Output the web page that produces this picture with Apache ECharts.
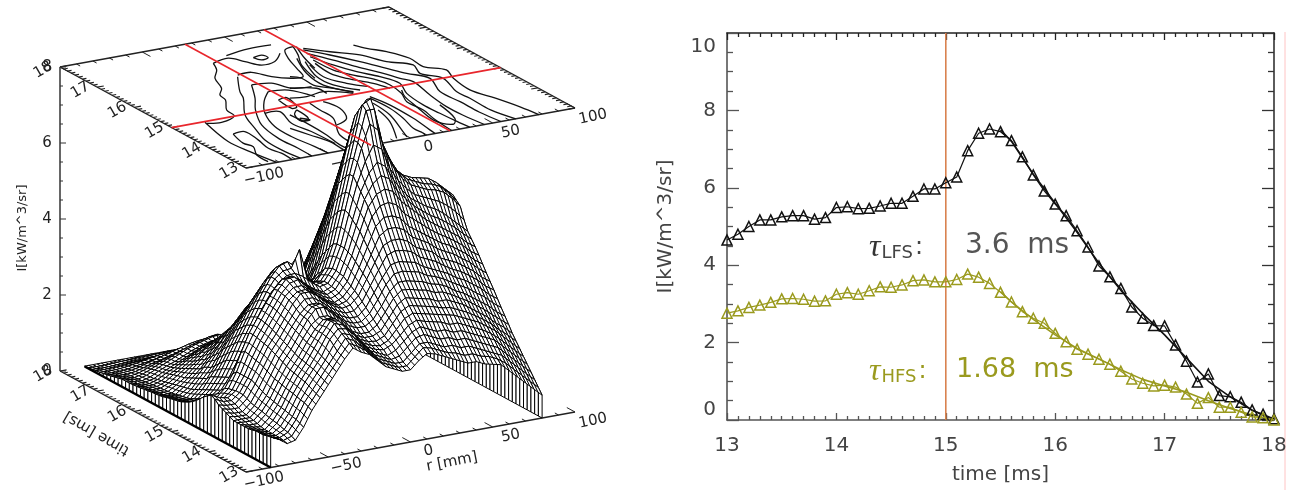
<!DOCTYPE html>
<html><head><meta charset="utf-8">
<style>html,body{margin:0;padding:0;background:#fff}#c{width:1298px;height:490px}</style>
<script src="https://cdn.jsdelivr.net/npm/echarts@6/dist/echarts.min.js"></script></head>
<body><div id="c"></div>
<script>
const timeMs=[13,13.1,13.2,13.3,13.4,13.5,13.6,13.7,13.8,13.9,14,14.1,14.2,14.3,14.4,14.5,14.6,14.7,14.8,14.9,15,15.1,15.2,15.3,15.4,15.5,15.6,15.7,15.8,15.9,16,16.1,16.2,16.3,16.4,16.5,16.6,16.7,16.8,16.9,17,17.1,17.2,17.3,17.4,17.5,17.6,17.7,17.8,17.9,18];
const lfs=[4.65,4.8,5.0,5.17,5.17,5.25,5.28,5.28,5.19,5.23,5.49,5.51,5.46,5.47,5.53,5.6,5.6,5.78,5.97,5.97,6.13,6.28,6.96,7.41,7.52,7.45,7.22,6.8,6.33,5.92,5.58,5.28,4.89,4.47,3.98,3.7,3.4,2.92,2.63,2.44,2.43,1.94,1.52,0.98,1.19,0.63,0.6,0.46,0.26,0.15,0.03];
const hfs=[2.76,2.82,2.91,2.97,3.04,3.13,3.14,3.12,3.07,3.08,3.25,3.29,3.25,3.34,3.44,3.43,3.49,3.6,3.62,3.57,3.57,3.63,3.77,3.69,3.53,3.3,3.05,2.8,2.63,2.5,2.24,2.02,1.83,1.7,1.57,1.44,1.26,1.06,0.95,0.88,0.9,0.85,0.67,0.43,0.58,0.33,0.33,0.2,0.08,0.06,0];
const fitTime=[15.5,15.6,15.8,16,16.2,16.4,16.6,16.8,17,17.2,17.4,17.6,17.8,18];
const lfsFit=[7.5,7.2,6.35,5.6,4.85,4.05,3.35,2.75,2.2,1.6,1.0,0.6,0.25,0];
const hfsFit=[3.32,3.05,2.6,2.2,1.85,1.58,1.3,1.05,0.88,0.72,0.5,0.3,0.13,0];
const markerTime=[15];
const surfaceR=[-85,-80,-75,-70,-65,-60,-55,-50,-45,-40,-35,-30,-25,-20,-15,-10,-5,0,5,10,15,20,25,30,35,40,45,50,55,60,65,70,75,80];
const surfaceZ=[
[.8,.7,.55,.6,.9,1.3,1.6,1.9,2.2,2.5,2.75,2.6,2.5,2.3,2.1,2,1.9,1.9,2.1,2.25,2.2,2.1,2,1.9,1.8,1.8,1.7,1.65,1.6,1.4,1.2,1,.8,.6],
[.78,.68,.58,.65,.95,1.35,1.65,1.95,2.25,2.55,2.82,2.7,2.55,2.35,2.15,2.05,1.95,1.95,2.15,2.35,2.3,2.2,2.1,2.05,1.95,1.95,1.85,1.8,1.7,1.55,1.35,1.15,.95,.75],
[.75,.65,.6,.7,1,1.4,1.7,2,2.3,2.6,2.9,2.8,2.6,2.4,2.2,2.1,2,2,2.2,2.4,2.4,2.3,2.2,2.2,2.1,2.1,2,1.9,1.8,1.7,1.5,1.3,1.1,.9],
[.75,.65,.6,.72,1.02,1.42,1.75,2.05,2.35,2.7,2.97,2.9,2.7,2.45,2.25,2.15,2.05,2.1,2.3,2.5,2.55,2.45,2.35,2.35,2.25,2.25,2.15,2.05,1.95,1.85,1.65,1.45,1.25,1.05],
[.75,.65,.6,.75,1.05,1.45,1.8,2.1,2.4,2.8,3.04,3,2.8,2.5,2.3,2.2,2.1,2.2,2.4,2.6,2.7,2.6,2.5,2.5,2.4,2.4,2.3,2.2,2.1,2,1.8,1.6,1.4,1.2],
[.72,.65,.6,.78,1.08,1.48,1.82,2.12,2.45,2.82,3.13,3.05,2.85,2.55,2.35,2.25,2.2,2.3,2.5,2.72,2.82,2.75,2.7,2.65,2.55,2.55,2.45,2.35,2.25,2.12,1.95,1.75,1.55,1.35],
[.7,.65,.6,.8,1.1,1.5,1.85,2.15,2.5,2.85,3.14,3.1,2.9,2.6,2.4,2.3,2.25,2.35,2.6,2.85,2.95,2.9,2.85,2.8,2.75,2.7,2.6,2.5,2.4,2.25,2.1,1.9,1.7,1.5],
[.7,.65,.62,.82,1.12,1.52,1.88,2.18,2.52,2.85,3.12,3.1,2.9,2.65,2.45,2.35,2.32,2.42,2.7,2.98,3.1,3.05,3,2.95,2.88,2.85,2.75,2.65,2.52,2.38,2.22,2.02,1.85,1.65],
[.7,.65,.65,.85,1.15,1.55,1.9,2.2,2.55,2.85,3.07,3.07,2.9,2.7,2.5,2.4,2.4,2.5,2.8,3.1,3.25,3.2,3.15,3.1,3,3,2.9,2.8,2.65,2.5,2.35,2.15,2,1.8],
[.7,.68,.68,.88,1.18,1.58,1.95,2.25,2.6,2.92,3.08,3.08,2.95,2.75,2.55,2.45,2.45,2.6,2.9,3.22,3.4,3.38,3.32,3.28,3.18,3.15,3.05,2.92,2.8,2.65,2.5,2.32,2.15,1.98],
[.7,.7,.7,.9,1.2,1.6,2,2.3,2.65,3,3.25,3.25,3.05,2.85,2.65,2.55,2.55,2.7,3,3.35,3.55,3.55,3.5,3.45,3.35,3.3,3.2,3.05,2.95,2.8,2.65,2.5,2.3,2.15],
[.75,.72,.72,.92,1.25,1.65,2.05,2.35,2.7,3.02,3.25,3.29,3.12,2.9,2.72,2.62,2.62,2.8,3.12,3.48,3.72,3.75,3.7,3.65,3.52,3.45,3.35,3.22,3.1,2.98,2.82,2.68,2.48,2.32],
[.8,.75,.75,.95,1.3,1.7,2.1,2.4,2.75,3.05,3.25,3.25,3.1,2.95,2.8,2.7,2.7,2.9,3.25,3.6,3.9,3.95,3.9,3.85,3.7,3.6,3.5,3.4,3.25,3.15,3,2.85,2.65,2.5],
[.85,.8,.8,1,1.35,1.75,2.15,2.45,2.8,3.12,3.34,3.34,3.2,3.02,2.88,2.78,2.8,3,3.38,3.75,4.1,4.18,4.15,4.08,3.9,3.8,3.7,3.55,3.42,3.32,3.18,3.02,2.82,2.68],
[.9,.85,.85,1.05,1.4,1.8,2.2,2.5,2.85,3.2,3.44,3.44,3.3,3.1,2.95,2.85,2.9,3.1,3.5,3.9,4.3,4.4,4.4,4.3,4.1,4,3.9,3.7,3.6,3.5,3.35,3.2,3,2.85],
[1,.9,.88,1.05,1.4,1.82,2.22,2.55,2.9,3.25,3.43,3.45,3.32,3.12,2.98,2.88,2.95,3.18,3.6,4.05,4.5,4.65,4.65,4.55,4.32,4.2,4.08,3.9,3.78,3.68,3.52,3.38,3.18,3.02],
[1.05,.95,.9,1.05,1.4,1.85,2.25,2.6,2.95,3.3,3.49,3.5,3.35,3.15,3,2.9,3,3.25,3.7,4.2,4.7,4.9,4.9,4.8,4.55,4.4,4.25,4.1,3.95,3.85,3.7,3.55,3.35,3.2],
[.98,.88,.85,1.02,1.4,1.88,2.28,2.62,2.98,3.32,3.55,3.6,3.4,3.2,3.05,2.95,3.05,3.32,3.8,4.35,4.9,5.15,5.2,5.1,4.82,4.65,4.48,4.3,4.15,4.02,3.88,3.72,3.52,3.38],
[.9,.8,.8,1,1.4,1.9,2.3,2.65,3,3.35,3.6,3.62,3.45,3.25,3.1,3,3.1,3.4,3.9,4.5,5.1,5.4,5.5,5.4,5.1,4.9,4.7,4.5,4.35,4.2,4.05,3.9,3.7,3.55],
[.8,.72,.75,.95,1.3,1.82,2.3,2.65,3,3.32,3.55,3.57,3.48,3.28,3.12,3.02,3.12,3.42,3.95,4.6,5.25,5.62,5.8,5.68,5.32,5.08,4.85,4.68,4.52,4.4,4.25,4.08,3.88,3.7],
[.7,.65,.7,.85,1.15,1.55,2,2.4,2.8,3.15,3.4,3.55,3.57,3.45,3.25,3.1,3.15,3.45,4,4.7,5.4,5.85,6.1,5.95,5.55,5.25,5,4.85,4.7,4.6,4.45,4.25,4.05,3.85],
[.62,.58,.62,.8,1.1,1.5,1.95,2.35,2.75,3.15,3.45,3.62,3.65,4.1,3.3,3.1,3.15,3.45,4,4.8,5.55,6.1,6.5,6.35,5.8,5.45,5.2,5,4.9,4.8,4.7,4.55,4.35,4.1],
[.55,.5,.55,.75,1.05,1.45,1.9,2.3,2.7,3.1,3.45,3.7,3.77,3.6,3.35,3.1,3.1,3.4,4,4.85,5.7,6.4,7,6.8,6.1,5.7,5.4,5.2,5.1,5,4.95,4.85,4.65,4.4],
[.5,.45,.5,.7,1,1.4,1.8,2.2,2.6,3,3.35,3.6,3.69,3.55,3.3,3.05,3.05,3.35,3.95,4.8,5.7,6.5,7.3,7.3,6.35,5.85,5.5,5.3,5.2,5.1,5.05,4.95,4.75,4.5],
[.45,.4,.45,.65,.95,1.3,1.7,2.1,2.5,2.85,3.2,3.45,3.53,3.4,3.15,2.95,2.95,3.2,3.8,4.7,5.6,6.5,7.4,7.52,6.5,6,5.55,5.35,5.25,5.2,5.15,5,4.8,4.6],
[.42,.38,.4,.6,.9,1.2,1.6,2,2.35,2.7,3,3.25,3.3,3.2,3,2.8,2.85,3.1,3.65,4.55,5.45,6.35,7.2,7.45,6.55,5.95,5.5,5.25,5.15,5.05,5,4.85,4.65,4.45],
[.4,.35,.35,.55,.8,1.1,1.5,1.85,2.2,2.5,2.8,3,3.05,2.95,2.8,2.65,2.7,2.95,3.5,4.4,5.3,6.2,7,7.22,6.5,5.9,5.4,5.15,5,4.9,4.85,4.7,4.5,4.3],
[.38,.32,.32,.5,.75,1,1.35,1.7,2.05,2.3,2.6,2.75,2.8,2.7,2.6,2.45,2.5,2.8,3.3,4.15,5,5.85,6.6,6.8,6.15,5.6,5.15,4.9,4.75,4.65,4.6,4.45,4.25,4.05],
[.35,.3,.3,.45,.7,.95,1.25,1.55,1.9,2.15,2.4,2.6,2.63,2.5,2.4,2.3,2.35,2.6,3.1,3.9,4.7,5.5,6.2,6.33,5.8,5.3,4.9,4.65,4.5,4.4,4.3,4.15,3.95,3.8],
[.32,.28,.28,.42,.65,.9,1.15,1.45,1.75,2,2.25,2.45,2.5,2.4,2.25,2.15,2.2,2.45,2.9,3.65,4.4,5.15,5.8,5.92,5.45,5,4.6,4.35,4.2,4.1,4,3.85,3.7,3.5],
[.3,.25,.25,.4,.6,.8,1.05,1.3,1.55,1.8,2,2.2,2.24,2.15,2.05,1.95,2,2.25,2.7,3.4,4.1,4.8,5.4,5.58,5.1,4.65,4.3,4.05,3.9,3.8,3.7,3.55,3.4,3.25],
[.29,.23,.23,.37,.55,.75,.95,1.2,1.45,1.65,1.85,2,2.02,1.95,1.85,1.8,1.85,2.1,2.5,3.15,3.8,4.45,5,5.28,4.8,4.35,4,3.8,3.65,3.5,3.4,3.3,3.15,3],
[.28,.22,.22,.35,.5,.7,.9,1.1,1.3,1.5,1.65,1.8,1.83,1.75,1.7,1.65,1.7,1.95,2.35,2.95,3.55,4.1,4.6,4.89,4.45,4.05,3.7,3.5,3.35,3.25,3.15,3,2.85,2.75],
[.26,.21,.21,.32,.48,.65,.82,1,1.2,1.35,1.5,1.65,1.7,1.62,1.55,1.5,1.55,1.8,2.15,2.7,3.25,3.8,4.25,4.47,4.1,3.75,3.4,3.25,3.1,2.95,2.85,2.75,2.6,2.5],
[.25,.2,.2,.3,.45,.6,.75,.95,1.1,1.25,1.4,1.53,1.57,1.5,1.42,1.37,1.45,1.65,2,2.5,3,3.5,3.9,3.98,3.8,3.45,3.15,3,2.85,2.7,2.6,2.5,2.35,2.25],
[.23,.19,.19,.27,.42,.55,.7,.85,1,1.12,1.25,1.38,1.44,1.38,1.3,1.25,1.32,1.52,1.85,2.3,2.75,3.2,3.55,3.7,3.45,3.15,2.9,2.75,2.6,2.45,2.35,2.25,2.15,2.05],
[.22,.18,.18,.25,.38,.5,.65,.78,.92,1.02,1.12,1.22,1.26,1.22,1.17,1.12,1.2,1.4,1.7,2.1,2.5,2.9,3.25,3.4,3.15,2.9,2.65,2.5,2.35,2.25,2.15,2.05,1.95,1.85],
[.21,.16,.16,.23,.35,.46,.58,.7,.82,.92,1,1.05,1.06,1.03,1,.98,1.05,1.25,1.5,1.85,2.2,2.55,2.8,2.92,2.8,2.6,2.35,2.25,2.15,2.05,1.95,1.85,1.75,1.65],
[.2,.15,.15,.2,.32,.42,.52,.62,.72,.82,.88,.93,.95,.92,.9,.9,.95,1.1,1.35,1.7,2.05,2.35,2.6,2.63,2.55,2.35,2.15,2.05,1.95,1.85,1.75,1.65,1.55,1.5],
[.2,.15,.13,.19,.3,.4,.48,.58,.68,.76,.82,.86,.88,.86,.85,.85,.9,1.05,1.28,1.6,1.9,2.2,2.4,2.44,2.4,2.2,2,1.9,1.8,1.7,1.6,1.5,1.42,1.35],
[.2,.15,.12,.18,.28,.38,.48,.58,.68,.76,.82,.88,.9,.86,.82,.8,.85,1,1.2,1.5,1.8,2.05,2.3,2.43,2.3,2.1,1.9,1.75,1.65,1.55,1.45,1.4,1.3,1.25],
[.17,.13,.11,.16,.25,.35,.44,.53,.62,.7,.76,.82,.85,.8,.76,.72,.77,.9,1.05,1.3,1.55,1.75,1.9,1.94,1.85,1.7,1.55,1.45,1.35,1.3,1.25,1.15,1.1,1.05],
[.15,.12,.1,.14,.22,.3,.38,.45,.52,.58,.62,.65,.67,.64,.6,.58,.63,.75,.9,1.1,1.3,1.4,1.5,1.52,1.45,1.35,1.25,1.15,1.1,1.05,1,.95,.9,.85],
[.12,.1,.09,.12,.18,.25,.3,.36,.4,.44,.46,.45,.43,.43,.44,.46,.5,.6,.72,.87,1,1.02,1,.98,.98,.96,.92,.88,.85,.8,.76,.72,.68,.65],
[.1,.08,.08,.1,.15,.22,.28,.34,.4,.46,.52,.56,.58,.54,.5,.48,.52,.6,.7,.85,1,1.1,1.18,1.19,1.15,1.05,.95,.9,.85,.8,.75,.7,.65,.6],
[.08,.06,.06,.08,.12,.16,.2,.24,.26,.29,.31,.33,.33,.32,.3,.3,.33,.38,.44,.5,.56,.6,.63,.63,.6,.56,.52,.48,.45,.42,.4,.37,.35,.32],
[.06,.05,.05,.07,.1,.14,.18,.22,.25,.28,.31,.33,.33,.31,.29,.28,.3,.35,.42,.48,.54,.58,.6,.6,.55,.52,.5,.45,.42,.4,.38,.35,.32,.3],
[.05,.04,.04,.05,.07,.09,.11,.13,.15,.17,.18,.2,.2,.19,.19,.2,.22,.26,.32,.38,.42,.45,.46,.46,.42,.38,.35,.32,.3,.28,.26,.24,.22,.2],
[.03,.02,.02,.03,.04,.05,.06,.07,.07,.08,.08,.08,.08,.08,.08,.1,.12,.15,.18,.22,.26,.26,.26,.26,.25,.22,.2,.18,.17,.16,.15,.14,.13,.12],
[.02,.01,.01,.02,.03,.03,.04,.05,.05,.06,.06,.06,.06,.06,.06,.06,.07,.09,.1,.12,.14,.15,.15,.15,.14,.12,.11,.1,.09,.09,.08,.08,.07,.07],
[.01,.01,.01,.01,.01,.01,.01,.01,.01,.01,.01,.01,.01,.01,.01,.01,.01,.01,.01,.01,.01,.01,.01,.01,.01,.01,.01,.01,.01,.01,.01,.01,.01,.01]];
const contours=[
[[-27.2,17.1],[-31.2,16.83],[-39,16.53],[-44.3,16.12],[-50.7,15.88],[-52.3,15.66],[-60.2,15.28],[-61.7,15.01],[-72.8,14.86],[-80.5,14.92]],
[[-80.4,14.97],[-86,14.1],[-84.5,13.58],[-81.3,13]],
[[-27.3,16.44],[-38.8,15.87],[-42.8,15.6],[-56,14.97],[-62.7,14.41],[-67.9,13.91],[-68.7,13.43],[-67,13]],
[[-27.9,16.04],[-37.5,15.52],[-47,15.09],[-56.8,14.49],[-60.4,13.88],[-59.7,13.38],[-60,13]],
[[-25.9,15.68],[-36.1,15.34],[-45.5,14.9],[-52.2,14.34],[-53,13.86],[-50.7,13.33],[-50,13]],
[[-77.5,14.34],[-80.5,13.94],[-78.8,13.74],[-84.2,13.41],[-84.5,13.09]],
[[-77.5,14.34],[-70,14.36],[-70.9,13.96],[-73.3,13.58],[-71.5,13.31],[-72,13]],
[[-14.7,17.3],[0.8,17.4],[14.5,17.39]],
[[-4.2,17.04],[1.8,17.08],[2.6,16.94],[-2.4,16.9],[-4.2,17.04]],
[[-27.2,17.1],[-16.1,17.19],[-11.3,16.95],[-6.6,16.71],[2.3,16.75],[11.6,17.02]],
[[-25.9,16.5],[-17.3,16.51],[-11.8,16.21],[-4.1,16.02],[2.6,16],[6.6,16.35],[11.2,16.78],[16.6,17.11],[23.2,17.18]],
[[-27.9,16.04],[-17.4,15.97],[-12.5,15.65],[-2,15.57]],
[[-25.9,15.68],[-15.4,15.6],[-8.8,15.18]],
[[-28.3,15.3],[-22.6,15.33],[-25.5,14.93],[-29.2,14.9],[-28.3,15.3]],
[[-33.8,14.48],[-30.6,14.35],[-35.3,14.37],[-33.8,14.48]],
[[23.2,17.18],[18.5,16.84],[11.6,16.44],[6.6,15.86]],
[[24.7,17.16],[18.7,16.67],[14.9,16.23]],
[[-45.5,14.9],[-37.3,14.86],[-41.8,14.35],[-39.7,13.91],[-39,13.3]],
[[51.9,16.83],[55.2,16.62],[61.5,16.36],[66.5,15.96],[65.6,15.56],[73.4,15.28],[69.5,14.92],[67.3,14.38],[72,13.9],[76,13.4],[78,13]],
[[26.4,17.05],[35.7,16.74],[46.6,16.42],[53.1,15.99],[62.5,15.69],[58.5,15.33],[64.9,14.99],[59.8,14.41],[60.3,14.07],[60,13.5],[64,13]],
[[25,16.99],[32.9,16.62],[41,16.17],[47.5,15.74],[52.4,15.42],[58.9,15.08],[52.3,14.52],[53,14.01],[53,13.5],[55,13]],
[[23.7,16.84],[30.2,16.41],[35.3,16.01],[41.8,15.58],[45.2,15.28],[48.5,15.07],[44.9,14.46],[42.7,13.92],[43,13.5],[45,13]],
[[22.4,16.69],[26,16.23],[31.1,15.82],[37.5,15.48],[41,15.1],[35.7,14.68],[33.5,14.14],[34.1,13.72],[35,13.3],[36,13]],
[[21.1,16.55],[21.9,16.04],[26.8,15.72],[33.2,15.38],[35.1,15.1],[33.4,14.72],[28.7,14.37],[29.3,13.95],[26.9,13.57],[25,13]],
[[19.1,16.41],[17.6,15.94],[21,15.64],[28.9,15.28],[32.3,14.98]],
[[15.4,16.39],[11.7,15.86],[16.8,15.46],[24.6,15.18]],
[[16,16.54],[8.7,15.91],[9.3,15.49],[17.3,15.12]],
[[15,16.72],[6.9,16.1],[4.7,15.55],[12.8,15.1]],
[[16.2,14.81],[18.3,14.37],[17.8,13.71],[15.6,13.17],[15,13]],
[[14.8,14.75],[15.5,14.24],[13.2,13.78],[9.4,13.34],[9.8,13.09],[9,13]],
[[12.1,14.54],[10,14],[2,13.29],[-0.6,13.07]],
[[8.8,14.26],[4.4,13.75],[-6.6,13.08]],
[[36.2,14.84],[32.1,14.57],[29.1,14.12],[25.5,13.51],[31,13.22],[36.7,13.43],[41.1,14.03]],
[[-3.4,16.09],[0.5,15.95],[0.2,15.62],[6.5,15.36],[12.3,15.08]],
[[-21.6,15.29],[-12.6,15.23],[-0.8,15.31],[11.4,15.04]],
[[-13.2,15.66],[-1.1,15.48],[-0.7,15.22]],
[[-9.2,14.94],[-7.2,14.58],[-12.6,14.16],[-22.7,13.98]],
[[-16.7,14.97],[-17.7,14.65],[-18.6,14.25],[-29.6,13.59],[-30,13]],
[[-28.3,14.81],[-30,14.42],[-35.3,14.36],[-33.3,14.64],[-28.3,14.81]],
[[-46.7,14.17],[-43.2,13.79],[-39.7,13.41],[-40.6,13.01]],
[[-35.6,14.67],[-34.8,14.17],[-35.6,13.68],[-37.9,13.21],[-37,13]]
];
const redR=[-24,24], redT=[15];
const rMajor=[-100,-50,0,50,100], tMajor=[13,14,15,16,17,18], zMajor=[0,2,4,6,8];

const OLIVE='#9a9a1e', GREY='#444';
function P(r,t,z){return [246+1.645*(r+100)-37.2*(t-13), 472-0.30*(r+100)-20.2*(t-13)-38*z];}
function mkItem(api){
 const c=p=>api.coord(p);
 return {
  line:(a,b,col,w)=>{const A=c(a),B=c(b);return {type:'line',shape:{x1:A[0],y1:A[1],x2:B[0],y2:B[1]},style:{stroke:col||'#111',lineWidth:w||1}};},
  poly:(ps,w)=>({type:'polygon',shape:{points:ps.map(c)},style:{fill:'#fff',stroke:'#000',lineWidth:w||1}}),
  text:(p,dx,dy,s,rotDeg,size)=>{const A=c(p);return {type:'text',x:A[0]+dx,y:A[1]+dy,rotation:(rotDeg||0)*Math.PI/180,style:{text:s,x:0,y:0,align:'center',verticalAlign:'middle',fill:'#222',font:(size||15)+'px "DejaVu Sans"'}};}
 };
}
function tickRange(a,b,st){const o=[];const n=Math.round((b-a)/st);for(let i=0;i<=n;i++)o.push(a+st*i);return o;}
function renderBox(p,api){
 const m=mkItem(api),ch=[];
 [8,0].forEach(z=>{
  ch.push(m.line(P(-100,13,z),P(100,13,z),'#222',1.4));
  ch.push(m.line(P(-100,13,z),P(-100,18,z),'#222',1.4));
  if(z===8){ch.push(m.line(P(-100,18,z),P(100,18,z),'#222',1.4));ch.push(m.line(P(100,13,z),P(100,18,z),'#222',1.4));}
  tickRange(13,18,0.1).forEach(t=>{const maj=Math.abs(t-Math.round(t))<1e-6;
   ch.push(m.line(P(-100,t,z),P(maj?-96:-97.5,t,z),'#222',1.2));
   if(z===8)ch.push(m.line(P(100,t,z),P(maj?96:97.5,t,z),'#222',1.2));});
  tickRange(-100,100,10).forEach(r=>{const maj=r%50===0;
   ch.push(m.line(P(r,13,z),P(r,maj?13.22:13.1,z),'#222',1));
   if(z===8)ch.push(m.line(P(r,18,z),P(r,maj?17.78:17.9,z),'#222',1));});
  rMajor.forEach(r=>{ch.push(m.text(P(r,13,z),18,9,(r<0?'\u2212':'')+Math.abs(r),12));});
  tMajor.forEach(t=>{ch.push(m.text(P(-100,t,z),-17,3,String(t),30));});
 });
 ch.push(m.line(P(-100,18,0),P(-100,18,8),'#333',1.5));
 tickRange(0,8,0.5).forEach(z=>{ch.push(m.line(P(-100,18,z),[P(-100,18,z)[0]+(z%2===0?6:3),P(-100,18,z)[1]],'#333',1));});
 zMajor.forEach(z=>{ch.push(m.text(P(-100,18,z),-13,0,String(z),0));});
 ch.push(m.text(P(-100,18,4),-37,9,'I[kW/m^3/sr]',90,13));
 ch.push(m.text(P(10,13,0),25,23,'r [mm]',11,15));
 ch.push(m.text(P(-100,15.7,0),-49,16,'time [ms]',150,15));
 return {type:'group',children:ch};
}
function renderContours(p,api){
 const ch=contours.map(l=>({type:'polyline',shape:{points:l.map(q=>api.coord(P(q[0],q[1],8))),smooth:0.35},style:{fill:null,stroke:'#111',lineWidth:1.3}}));
 return {type:'group',children:ch};
}
const surfaceT=timeMs;
function renderSurface(p,api){
 const m=mkItem(api),ch=[];const nT=surfaceT.length,nR=surfaceR.length;
 const last=nR-1;
 for(let i=nT-1;i>0;i--){
  ch.push(m.poly([P(surfaceR[last],surfaceT[i],0),P(surfaceR[last],surfaceT[i-1],0),P(surfaceR[last],surfaceT[i-1],surfaceZ[i-1][last]),P(surfaceR[last],surfaceT[i],surfaceZ[i][last])]));
 }
 for(let i=nT-1;i>0;i--)for(let j=nR-1;j>0;j--){
  const a=P(surfaceR[j],surfaceT[i],surfaceZ[i][j]),b=P(surfaceR[j-1],surfaceT[i],surfaceZ[i][j-1]),c=P(surfaceR[j-1],surfaceT[i-1],surfaceZ[i-1][j-1]),d=P(surfaceR[j],surfaceT[i-1],surfaceZ[i-1][j]);
  ch.push(m.poly([a,b,c,d]));
  ch.push(m.line([(a[0]+b[0])/2,(a[1]+b[1])/2],[(c[0]+d[0])/2,(c[1]+d[1])/2],'#000',1));
 }
 for(let i=nT-1;i>0;i--){
  ch.push(m.poly([P(surfaceR[0],surfaceT[i],0),P(surfaceR[0],surfaceT[i-1],0),P(surfaceR[0],surfaceT[i-1],surfaceZ[i-1][0]),P(surfaceR[0],surfaceT[i],surfaceZ[i][0])]));
 }
 ch.push(m.line(P(surfaceR[0],18,0),P(surfaceR[0],13,0),'#000',2.5));
 return {type:'group',children:ch};
}
function renderRed(p,api){
 const m=mkItem(api),ch=[];
 redR.forEach(r=>ch.push(m.line(P(r,13,8),P(r,18,8),'#e8262c',1.6)));
 redT.forEach(t=>ch.push(m.line(P(-100,t,8),P(100,t,8),'#e8262c',1.6)));
 return {type:'group',children:ch};
}
function cust(fn){return {type:'custom',coordinateSystem:'cartesian2d',xAxisIndex:0,yAxisIndex:0,data:[[0,0]],renderItem:fn,clip:false,silent:true,animation:false,progressive:0};}
const pairs=(xs,ys)=>xs.map((x,i)=>[x,ys[i]]);
const tri=(name,ys,col)=>({name,type:'line',xAxisIndex:1,yAxisIndex:1,data:pairs(timeMs,ys),symbol:'triangle',symbolSize:10,showSymbol:true,showAllSymbol:true,lineStyle:{color:col,width:1.2},itemStyle:{color:'rgba(255,255,255,0)',borderColor:col,borderWidth:1.5},clip:false,silent:true,animation:false});
const fit=(name,ys,col)=>({name,type:'line',xAxisIndex:1,yAxisIndex:1,data:pairs(fitTime,ys),symbol:'none',smooth:false,lineStyle:{color:col,width:1.6},silent:true,animation:false});
const axBase=(col)=>({axisLine:{show:true,onZero:false,lineStyle:{color:col,width:1.6}},splitLine:{show:false},minorSplitLine:{show:false}});
const ticks=(col,tl,ml,n)=>({axisTick:{show:true,inside:true,length:tl,lineStyle:{color:col,width:1.3}},minorTick:{show:true,splitNumber:n,length:ml,lineStyle:{color:col,width:1.3}}});
const lab={fontFamily:'DejaVu Sans',fontSize:20,color:GREY};
const opt={
 animation:false,backgroundColor:'#fff',
 grid:[{left:0,top:0,width:640,height:490,show:false},{left:727,top:33,width:547,height:387,show:false}],
 xAxis:[
  {type:'value',gridIndex:0,min:0,max:640,show:false},
  Object.assign({type:'value',gridIndex:1,position:'bottom',min:13,max:18,interval:1,name:'time [ms]',nameLocation:'middle',nameGap:45,nameTextStyle:lab,axisLabel:Object.assign({margin:16},lab)},axBase('#555'),ticks('#555',7,4,10)),
  Object.assign({type:'value',gridIndex:1,position:'top',min:13,max:18,interval:1,axisLabel:{show:false}},axBase('#222'),ticks('#222',7,4,10))
 ],
 yAxis:[
  {type:'value',gridIndex:0,min:0,max:490,inverse:true,show:false},
  Object.assign({type:'value',gridIndex:1,position:'left',min:0,max:10,interval:2,name:'I[kW/m^3/sr]',nameLocation:'middle',nameGap:51,nameTextStyle:lab,axisLabel:Object.assign({margin:11,padding:[4,0,0,0],verticalAlignMaxLabel:'top',verticalAlignMinLabel:'bottom'},lab)},axBase('#555'),ticks('#555',12,6,4)),
  Object.assign({type:'value',gridIndex:1,position:'right',min:0,max:10,interval:2,axisLabel:{show:false}},axBase('#333'),ticks('#333',12,6,4))
 ],
 series:[
  cust(renderBox),cust(renderContours),cust(renderSurface),cust(renderRed),
  {name:'t0',type:'line',xAxisIndex:1,yAxisIndex:1,data:[[markerTime[0],0],[markerTime[0],10]],symbol:'none',lineStyle:{color:'#d9824f',width:1.6},silent:true,animation:false},
  tri('LFS',lfs,'#111'),fit('LFS fit',lfsFit,'#111'),tri('HFS',hfs,OLIVE),fit('HFS fit',hfsFit,OLIVE)
 ],
 graphic:[
  {type:'line',shape:{x1:1285,y1:32,x2:1285,y2:490},style:{stroke:'#ffc4c4',lineWidth:1}},
  {type:'text',left:869,top:232,style:{text:'{a|\u03c4}{b|LFS}{c|:}',fill:'#333',rich:{a:{font:'italic 32px "Liberation Serif"',fill:'#333'},b:{font:'18px "DejaVu Sans"',fill:GREY,padding:[10,0,0,1]},c:{font:'24px "DejaVu Sans"',fill:GREY,padding:[0,0,0,2]}}}},
  {type:'text',left:965,top:232,style:{text:'3.6  ms',fill:'#555',font:'28px "DejaVu Sans"'}},
  {type:'text',left:869,top:356,style:{text:'{a|\u03c4}{b|HFS}{c|:}',fill:OLIVE,rich:{a:{font:'italic 32px "Liberation Serif"',fill:OLIVE},b:{font:'18px "DejaVu Sans"',fill:OLIVE,padding:[10,0,0,1]},c:{font:'24px "DejaVu Sans"',fill:OLIVE,padding:[0,0,0,2]}}}},
  {type:'text',left:956,top:356,style:{text:'1.68  ms',fill:OLIVE,font:'27px "DejaVu Sans"'}}
 ]
};
echarts.init(document.getElementById('c'),null,{renderer:'canvas'}).setOption(opt);
</script></body></html>
